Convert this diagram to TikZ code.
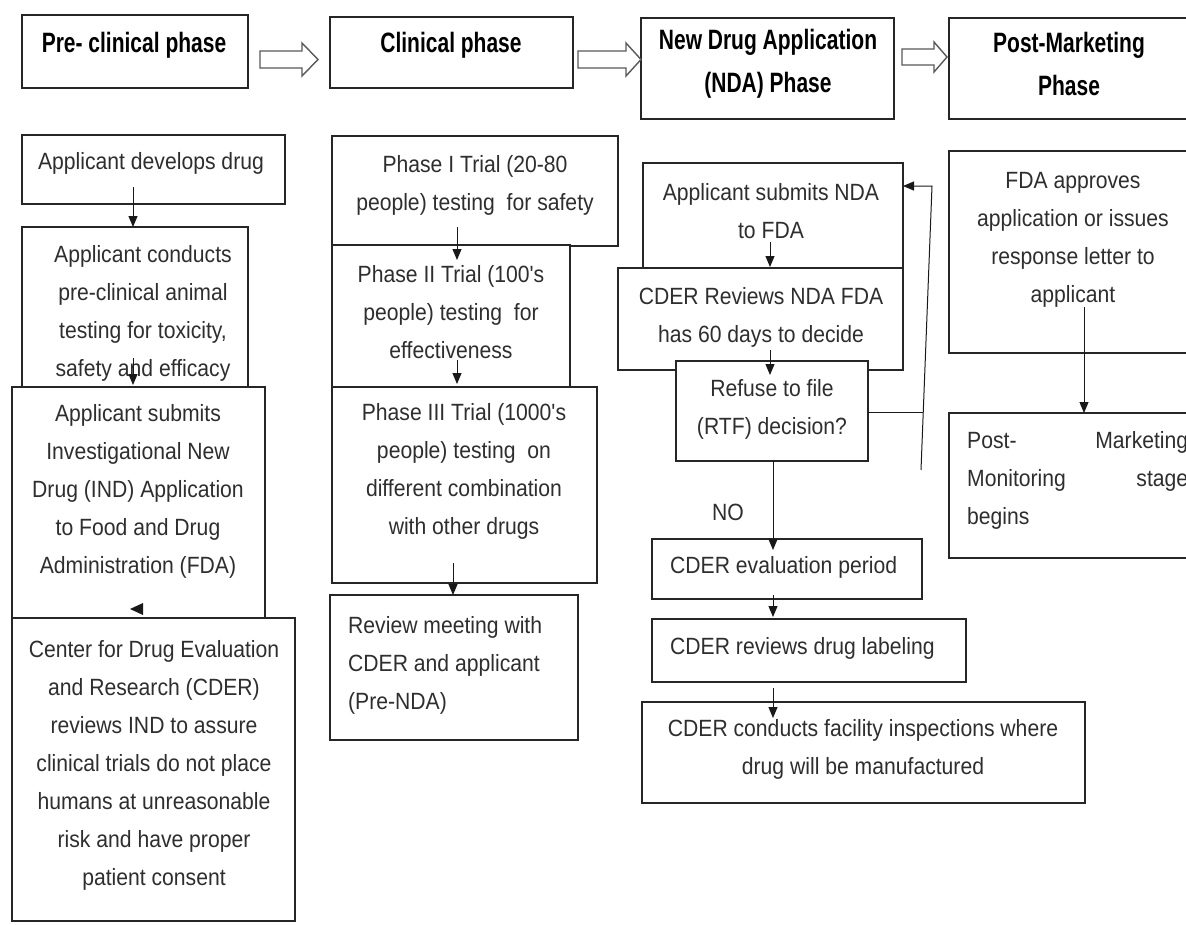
\documentclass[tikz,border=0pt]{standalone}
\usepackage{fontspec}
\setmainfont{Liberation Sans}
\newfontfamily\bodyfont[FakeStretch=0.9]{Liberation Sans}
\newfontfamily\headfont[FakeStretch=0.75]{Liberation Sans}
\usetikzlibrary{arrows.meta}
\begin{document}
\begin{tikzpicture}[x=1pt,y=-1pt,
  box/.style={draw=black!85, line width=1.2pt, fill=white, inner sep=0pt, outer sep=0pt, anchor=north west},
  txt/.style={inner sep=0pt, text=black!82, font=\bodyfont\fontsize{23.5}{38}\selectfont, align=center},
  head/.style={inner sep=0pt, text=black, font=\headfont\bfseries\fontsize{28}{43}\selectfont, align=center},
  conn/.style={draw=black!90, line width=1pt, -{Triangle[length=11pt,width=9pt]}},
  plain/.style={draw=black!90, line width=1pt},
  blockarrow/.style={draw=black!65, line width=1.4pt, fill=white}]

\clip (0,0) rectangle (1186,924);
\fill[white] (0,0) rectangle (1186,924);

% ---------- header row ----------
\node[box, minimum width=226pt, minimum height=73pt]  (hpre)  at (22,15)  {};
\node[box, minimum width=243pt, minimum height=71pt]  (hcli)  at (330,17) {};
\node[box, minimum width=253pt, minimum height=101pt] (hnda)  at (641,18) {};
\node[box, minimum width=260pt, minimum height=101pt] (hpost) at (949,18) {};
\node[head] (thpre)  at (134,45)  {Pre- clinical phase};
\node[head] (thcli)  at (451,45)  {Clinical phase};
\node[head] (thnda)  at (768,64)  {New Drug Application\\(NDA) Phase};
\node[head] (thpost) at (1069,64) {Post-Marketing\\Phase};

\draw[blockarrow] (260,51) -- (302,51) -- (302,43) -- (318,59.5) -- (302,76) -- (302,68) -- (260,68) -- cycle;
\draw[blockarrow] (578,51) -- (626,51) -- (626,43) -- (641,59.5) -- (626,76) -- (626,68) -- (578,68) -- cycle;
\draw[blockarrow] (902,49) -- (934,49) -- (934,42) -- (947,57) -- (934,72) -- (934,65) -- (902,65) -- cycle;

% ---------- pre-clinical column ----------
\node[box, minimum width=263pt, minimum height=69pt]  (dev)  at (22,135) {};
\node[box, minimum width=226pt, minimum height=160pt] (cond) at (22,227) {};
\node[box, minimum width=253pt, minimum height=231pt] (ind)  at (12,387) {};
\node[box, minimum width=283pt, minimum height=303pt] (cder) at (12,618) {};
\node[txt] (tdev)  at (151,163) {Applicant develops drug};
\node[txt] (tcond) at (143,313) {Applicant conducts\\pre-clinical animal\\testing for toxicity,\\safety and efficacy};
\node[txt] (tind)  at (138,491) {Applicant submits\\Investigational New\\Drug (IND) Application\\to Food and Drug\\Administration (FDA)};
\node[txt] (tcder) at (154,765) {Center for Drug Evaluation\\and Research (CDER)\\reviews IND to assure\\clinical trials do not place\\humans at unreasonable\\risk and have proper\\patient consent};

% ---------- clinical column ----------
\node[box, minimum width=286pt, minimum height=110pt] (p1)  at (332,136) {};
\node[box, minimum width=238pt, minimum height=142pt] (p2)  at (332,245) {};
\node[box, minimum width=265pt, minimum height=196pt] (p3)  at (332,387) {};
\node[box, minimum width=248pt, minimum height=145pt] (rev) at (330,595) {};
\node[txt] (tp1) at (475,185) {Phase I Trial (20-80\\people) testing\ \ for safety};
\node[txt] (tp2) at (451,312) {Phase II Trial (100's\\people) testing\ \ for\\effectiveness};
\node[txt] (tp3) at (464,471) {Phase III Trial (1000's\\people) testing\ \ on\\different combination\\with other drugs};
\node[txt, align=left, anchor=west] (trev) at (348,665) {Review meeting with\\CDER and applicant\\(Pre-NDA)};

% ---------- NDA column ----------
\node[box, minimum width=260pt, minimum height=105pt] (ndas)  at (643,163) {};
\node[box, minimum width=285pt, minimum height=102pt] (cdrev) at (618,268) {};
\node[box, minimum width=192pt, minimum height=100pt] (rtf)   at (676,361) {};
\node[box, minimum width=270pt, minimum height=60pt]  (eval)  at (652,539) {};
\node[box, minimum width=314pt, minimum height=63pt]  (lab)   at (652,619) {};
\node[box, minimum width=443pt, minimum height=101pt] (fac)   at (642,702) {};
\node[txt] (tndas)  at (771,211) {Applicant submits NDA\\to FDA};
\node[txt] (tcdrev) at (761,317) {CDER Reviews NDA FDA\\has 60 days to decide};
\node[txt] (trtf)   at (772,409) {Refuse to file\\(RTF) decision?};
\node[txt, anchor=west] (teval) at (670,567) {CDER evaluation period};
\node[txt, anchor=west] (tlab)  at (670,648) {CDER reviews drug labeling};
\node[txt] (tfac) at (863,749) {CDER conducts facility inspections where\\drug will be manufactured};
\node[txt] (tno)  at (728,512) {NO};

% ---------- post-marketing column ----------
\node[box, minimum width=260pt, minimum height=202pt] (fda)  at (949,151) {};
\node[box, minimum width=260pt, minimum height=145pt] (post) at (949,413) {};
\node[txt] (tfda) at (1073,240) {FDA approves\\application or issues\\response letter to\\applicant};
\node[txt, align=left, anchor=west] (tpost) at (967,480) {\makebox[221pt][s]{Post-\hfill Marketing}\\\makebox[221pt][s]{Monitoring\hfill stage}\\begins};

% ---------- connectors ----------
\coordinate (a1) at (133,187); \coordinate (b1) at (133,227);
\coordinate (a2) at (133,358); \coordinate (b2) at (133,385);
\coordinate (a3) at (457,227); \coordinate (b3) at (457,260);
\coordinate (a4) at (457,360); \coordinate (b4) at (457,384);
\coordinate (a5) at (453,563); \coordinate (b5) at (453,595);
\coordinate (a6) at (770,242); \coordinate (b6) at (770,267);
\coordinate (a7) at (770,350); \coordinate (b7) at (770,375);
\coordinate (a8) at (773,461); \coordinate (b8) at (773,550);
\coordinate (a9) at (773,595); \coordinate (b9) at (773,617);
\coordinate (a10) at (773,688); \coordinate (b10) at (773,718);
\coordinate (a11) at (1084,307); \coordinate (b11) at (1084,413);
\draw[conn] (a1) -- (b1);
\draw[conn] (a2) -- (b2);
\draw[conn] (a3) -- (b3);
\draw[conn] (a4) -- (b4);
\draw[conn] (a5) -- (b5);
\draw[conn] (a6) -- (b6);
\draw[conn] (a7) -- (b7);
\draw[conn] (a8) -- (b8);
\draw[conn] (a9) -- (b9);
\draw[conn] (a10) -- (b10);
\draw[conn] (a11) -- (b11);
% IND -> CDER small head
\fill[black!90] (143,603) -- (130,609) -- (143,615) -- cycle;
% feedback loop from RTF to NDA submission
\coordinate (fj) at (923,412);
\coordinate (fb) at (921,470);
\coordinate (ft) at (932,186);
\draw[plain] (rtf.east |- fj) -- (fj);
\draw[conn] (fb) -- (ft) -- (ndas.east |- ft);
\end{tikzpicture}
\end{document}
